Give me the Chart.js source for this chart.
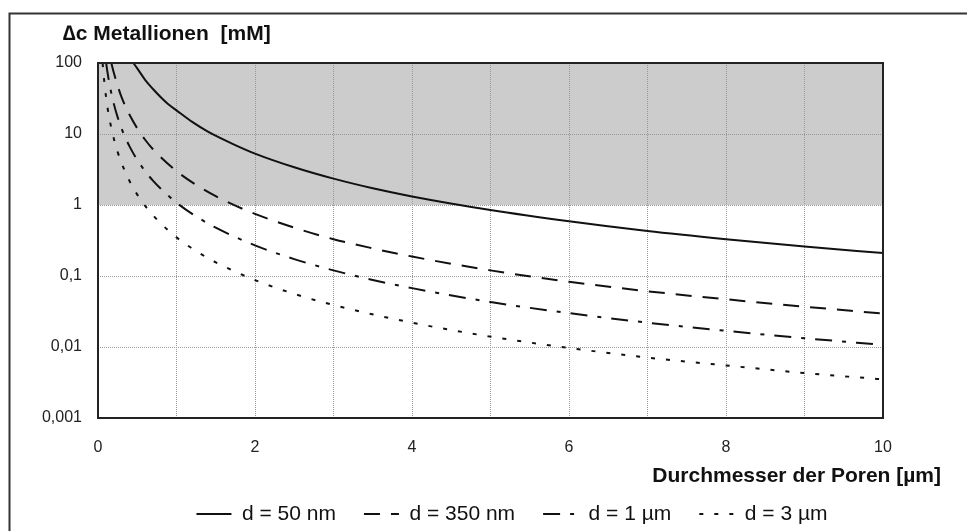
<!DOCTYPE html>
<html>
<head>
<meta charset="utf-8">
<script src="https://cdn.jsdelivr.net/npm/chart.js@4.4.1/dist/chart.umd.min.js"></script>
<style>
  html, body { margin: 0; padding: 0; background: #fff; overflow: hidden; }
  #wrap { width: 967px; height: 531px; position: relative; }
</style>
</head>
<body>
<div id="wrap"><canvas id="c" width="967" height="531"></canvas></div>
<script>
// ---------- data ----------
const chartTitle = '\u2206c Metallionen  [mM]';
const xAxisTitle = 'Durchmesser der Poren [\u00b5m]';
const seriesNames = ['d = 50 nm', 'd = 350 nm', 'd = 1 \u00b5m', 'd = 3 \u00b5m'];

const x50nm = [0.45, 0.5, 0.6, 0.7, 0.8, 0.9, 1, 1.2, 1.4, 1.7, 2, 2.5, 3, 3.5, 4, 5, 6, 7, 8, 9, 10];
const y50nm = [100, 84, 58, 43, 33, 26, 21.5, 14.8, 10.8, 7.4, 5.3, 3.4, 2.35, 1.72, 1.32, 0.85, 0.59, 0.43, 0.33, 0.26, 0.21];

const x350nm = [0.17, 0.2, 0.25, 0.3, 0.35, 0.4, 0.5, 0.6, 0.7, 0.8, 1, 1.25, 1.5, 1.75, 2, 2.5, 3, 3.5, 4, 5, 6, 7, 8, 9, 10];
const y350nm = [100, 74, 48, 33, 24.5, 18.8, 12, 8.3, 6.1, 4.7, 3.0, 1.92, 1.33, 0.98, 0.75, 0.48, 0.33, 0.245, 0.188, 0.12, 0.083, 0.061, 0.047, 0.037, 0.0295];

const x1um = [0.104, 0.12, 0.15, 0.2, 0.25, 0.3, 0.35, 0.4, 0.5, 0.6, 0.7, 0.8, 1, 1.25, 1.5, 2, 2.5, 3, 3.5, 4, 5, 6, 7, 8, 9, 10];
const y1um = [100, 75, 48, 27, 17.3, 12, 8.8, 6.75, 4.3, 3.0, 2.2, 1.69, 1.08, 0.69, 0.48, 0.27, 0.173, 0.12, 0.088, 0.0675, 0.043, 0.030, 0.022, 0.0169, 0.0133, 0.0107];

const x3um = [0.059, 0.07, 0.08, 0.1, 0.12, 0.15, 0.2, 0.25, 0.3, 0.4, 0.5, 0.6, 0.8, 1, 1.25, 1.5, 2, 2.5, 3, 4, 5, 6, 7, 8, 9, 10];
const y3um = [100, 71, 55, 35, 24, 15.5, 8.75, 5.6, 3.9, 2.2, 1.4, 0.97, 0.55, 0.35, 0.224, 0.156, 0.0875, 0.056, 0.039, 0.022, 0.014, 0.0097, 0.0071, 0.0055, 0.0043, 0.0035];

const yTickValues = [0.001, 0.01, 0.1, 1, 10, 100];
const yTickLabels = ['0,001', '0,01', '0,1', '1', '10', '100'];
const xTickValues = [0, 1, 2, 3, 4, 5, 6, 7, 8, 9, 10];
const xTickLabels = ['0', '', '2', '', '4', '', '6', '', '8', '', '10'];
const shadedBand = [1, 100];   // y-range shaded grey

// ---------- styling ----------
const FONT = "'Liberation Sans', Arial, Helvetica, sans-serif";
const INK = '#111';

function pts(xs, ys) { return xs.map((x, i) => ({ x: x, y: ys[i] })); }

const dashes = [[], [16, 11], [17, 10, 4, 10], [4, 11]];
const seriesData = [pts(x50nm, y50nm), pts(x350nm, y350nm), pts(x1um, y1um), pts(x3um, y3um)];

const datasets = seriesNames.map((name, i) => ({
  label: name,
  data: seriesData[i],
  borderColor: INK,
  backgroundColor: INK,
  borderWidth: 2,
  borderDash: dashes[i],
  pointRadius: 0,
  pointHoverRadius: 0,
  cubicInterpolationMode: 'monotone',
  fill: false
}));

const decor = {
  id: 'decor',
  afterLayout(chart) {
    // let the y tick labels extend left of the (narrow) axis box without clipping
    chart.scales.y.left = 0;
  },
  beforeDraw(chart) {
    const { ctx, scales: { x, y } } = chart;
    ctx.save();
    // outer figure frame (top and left edges)
    ctx.strokeStyle = '#333';
    ctx.lineWidth = 2;
    ctx.beginPath();
    ctx.moveTo(9.5, chart.height + 2);
    ctx.lineTo(9.5, 13.5);
    ctx.lineTo(chart.width + 2, 13.5);
    ctx.stroke();
    // grey band
    const yTop = y.getPixelForValue(shadedBand[1]);
    const yBot = y.getPixelForValue(shadedBand[0]);
    const xL = x.getPixelForValue(xTickValues[0]);
    const xR = x.getPixelForValue(xTickValues[xTickValues.length - 1]);
    ctx.fillStyle = '#cccccc';
    ctx.fillRect(xL, yTop, xR - xL, yBot - yTop);
    ctx.restore();
  },
  afterDatasetsDraw(chart) {
    const { ctx, chartArea: a } = chart;
    ctx.save();
    ctx.strokeStyle = '#222';
    ctx.lineWidth = 2;
    ctx.strokeRect(a.left, a.top, a.right - a.left, a.bottom - a.top);
    // x-axis title, right-aligned beyond the plot edge as in the reference
    ctx.fillStyle = INK;
    ctx.font = 'bold 21px ' + FONT;
    ctx.textAlign = 'right';
    ctx.textBaseline = 'middle';
    ctx.fillText(xAxisTitle, a.right + 58, a.bottom + 58);
    ctx.restore();
  }
};

new Chart(document.getElementById('c'), {
  type: 'line',
  data: { datasets: datasets },
  plugins: [decor],
  options: {
    responsive: false,
    animation: false,
    events: [],
    layout: { padding: { left: 63, right: 6, top: 13, bottom: -3.5 } },
    plugins: {
      title: {
        display: true,
        text: chartTitle,
        align: 'start',
        color: INK,
        font: { family: FONT, size: 21, weight: 'bold' },
        padding: { top: 8.9, bottom: 15.9 }
      },
      legend: {
        display: true,
        position: 'bottom',
        align: 'center',
        labels: {
          color: INK,
          font: { family: FONT, size: 21 },
          usePointStyle: true,
          pointStyle: 'line',
          pointStyleWidth: 35,
          padding: 28,
          generateLabels: (chart) =>
            Chart.defaults.plugins.legend.labels.generateLabels(chart).map((item, i) =>
              Object.assign(item, { lineDash: dashes[i], lineWidth: 2, strokeStyle: INK, fillStyle: INK }))
        }
      },
      tooltip: { enabled: false }
    },
    scales: {
      x: {
        type: 'linear',
        min: 0,
        max: 10,
        afterBuildTicks: (s) => { s.ticks = xTickValues.map(v => ({ value: v })); },
        afterFit: (s) => { s.height = 57.5; },
        ticks: {
          autoSkip: false,
          maxRotation: 0,
          padding: 20,
          color: '#222',
          font: { family: FONT, size: 16 },
          callback: (v, i) => xTickLabels[i]
        },
        grid: { color: '#999', lineWidth: 1, drawTicks: false },
        border: { display: false, dash: [1, 1] }
      },
      y: {
        type: 'logarithmic',
        min: 0.001,
        max: 100,
        afterBuildTicks: (s) => { s.ticks = yTickValues.map(v => ({ value: v })); },
        afterFit: (s) => { s.width = 35; },
        ticks: {
          padding: 16,
          color: '#222',
          font: { family: FONT, size: 16 },
          callback: (v, i) => yTickLabels[i]
        },
        grid: { color: '#999', lineWidth: 1, drawTicks: false },
        border: { display: false, dash: [1, 1] }
      },
      spacer: {
        type: 'linear',
        position: 'right',
        display: true,
        afterFit: (s) => { s.width = 78; },
        ticks: { display: false },
        grid: { display: false, drawTicks: false },
        border: { display: false }
      }
    }
  }
});
</script>
</body>
</html>
